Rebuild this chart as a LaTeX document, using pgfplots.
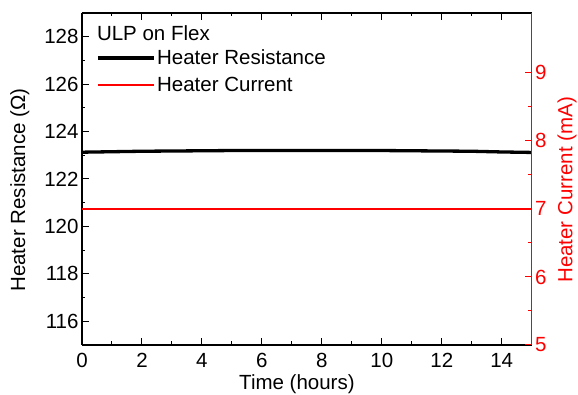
\documentclass[border=0pt]{standalone}
\usepackage{pgfplots}
\pgfplotsset{compat=1.18}
\usepackage{fontspec}
\setmainfont{Liberation Sans}
\definecolor{myred}{RGB}{255,0,0}
\pgfplotsset{
  myaxis/.style={
    width=449.7pt, height=332pt, scale only axis,
    xmin=0, xmax=15,
    font=\fontsize{20.5}{24}\selectfont,
    /pgf/number format/assume math mode=true,
    major tick length=7pt, minor tick length=3.5pt,
    tick align=inside,
  }
}
\begin{document}
\begin{tikzpicture}
\begin{axis}[myaxis,
  axis y line*=left,
  ymin=115, ymax=129,
  xtick={0,2,...,14}, minor x tick num=1,
  ytick={116,118,...,128}, minor y tick num=1,
  xticklabel style={yshift=-5pt},
  xlabel={Time (hours)},
  ylabel={Heater Resistance (Ω)},
  xlabel style={at={(axis description cs:0.478,-0.118)}, anchor=center},
  ylabel style={at={(axis description cs:-0.138,0.467)}, anchor=center, rotate=0},
  axis line style={line width=1.1pt},
  every tick/.style={line width=1pt, black},
]
\addplot[black, line width=3.3pt] coordinates {
(0,123.13) (0.5,123.14) (1,123.15) (2,123.17) (3,123.18) (4,123.19) (5,123.20)
(6,123.20) (7,123.20) (8,123.20) (9,123.20) (10,123.20) (11,123.19) (12,123.18)
(13,123.17) (14,123.14) (15,123.12)};
\end{axis}
\begin{axis}[myaxis,
  axis y line*=right, axis x line=none,
  ymin=5, ymax=9.88,
  ytick={5,6,7,8,9}, minor y tick num=1,
  y axis line style={myred, line width=1.1pt},
  y tick label style={myred},
  every y tick/.style={myred, line width=1pt},
  ylabel={Heater Current (mA)},
  ylabel style={myred, at={(axis description cs:1.0785,0.467)}, anchor=center, rotate=0},
  legend style={at={(axis description cs:0.031,0.898)}, anchor=north west, draw=none, fill=none,
     font=\fontsize{20.5}{24}\selectfont, row sep=5pt, inner sep=0pt,
     nodes={inner xsep=1.5pt, inner ysep=3pt}},
  legend cell align=left,
  legend image code/.code={\draw[#1] (0pt,0pt) -- (56pt,0pt);},
]
\addlegendimage{black, line width=3.5pt}
\addlegendentry{Heater Resistance}
\addlegendimage{myred, line width=2.2pt}
\addlegendentry{Heater Current}
\addplot[myred, line width=1.4pt, forget plot] coordinates {(0,7.0) (15,7.0)};
\node[anchor=west, font=\fontsize{20.5}{24}\selectfont, inner sep=0pt] at (axis description cs:0.033,0.94) {ULP on Flex};
\end{axis}
\pgfresetboundingbox
\path[use as bounding box] (-82pt,-50pt) rectangle (496pt,345pt);
\end{tikzpicture}
\end{document}
